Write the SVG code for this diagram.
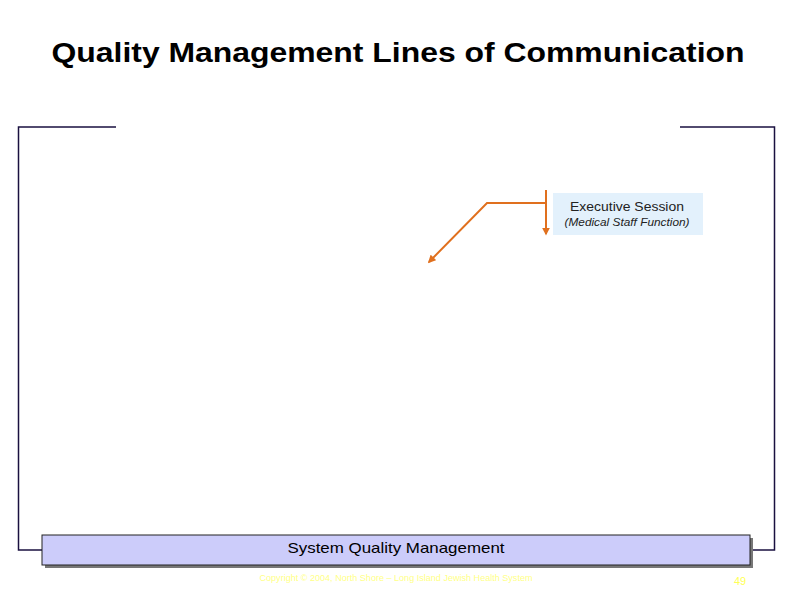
<svg xmlns="http://www.w3.org/2000/svg" width="792" height="612" viewBox="0 0 792 612">
<defs>
<style>
.frame{fill:none;stroke:#1a1040;stroke-width:1.5}
.conn{fill:none;stroke:#e0701e;stroke-width:2}
.t{font-family:"Liberation Sans",Arial,sans-serif}
</style>
<marker id="ah" viewBox="0 0 10 10" refX="8" refY="5" markerWidth="4" markerHeight="4" orient="auto">
<path d="M0,0 L10,5 L0,10 z" fill="#e0701e"/>
</marker>
</defs>
<rect width="792" height="612" fill="#ffffff"/>
<text class="t" x="398" y="62" font-size="28" font-weight="bold" text-anchor="middle" textLength="693" lengthAdjust="spacingAndGlyphs" fill="#000">Quality Management Lines of Communication</text>
<g id="frame">
<polyline class="frame" points="116,127 18.5,127 18.5,550 42,550"/>
<polyline class="frame" points="680,127 774.5,127 774.5,550 750,550"/>
</g>
<g id="connectors">
<line class="conn" x1="546" y1="190" x2="546" y2="234" marker-end="url(#ah)"/>
<polyline class="conn" points="546,203 487,203 429,262" marker-end="url(#ah)"/>
</g>
<g id="executive-session">
<rect x="553" y="193" width="150" height="42" fill="#e3f1fc"/>
<text class="t" x="627" y="211" font-size="13" text-anchor="middle" textLength="114" lengthAdjust="spacingAndGlyphs" fill="#222">Executive Session</text>
<text class="t" x="627" y="226" font-size="11" font-style="italic" text-anchor="middle" textLength="125" lengthAdjust="spacingAndGlyphs" fill="#222">(Medical Staff Function)</text>
</g>
<g id="system-quality-management">
<rect x="45" y="538" width="708" height="30" fill="#777"/>
<rect x="42" y="535" width="708" height="30" fill="#ccccfa" stroke="#222" stroke-width="1"/>
<text class="t" x="396" y="553" font-size="15" text-anchor="middle" textLength="217" lengthAdjust="spacingAndGlyphs" fill="#000">System Quality Management</text>
</g>
<text class="t" x="396" y="581" font-size="9" text-anchor="middle" textLength="273" lengthAdjust="spacingAndGlyphs" fill="#ffff88">Copyright © 2004, North Shore – Long Island Jewish Health System</text>
<text class="t" x="740" y="585" font-size="11" text-anchor="middle" fill="#ffff55">49</text>
</svg>
